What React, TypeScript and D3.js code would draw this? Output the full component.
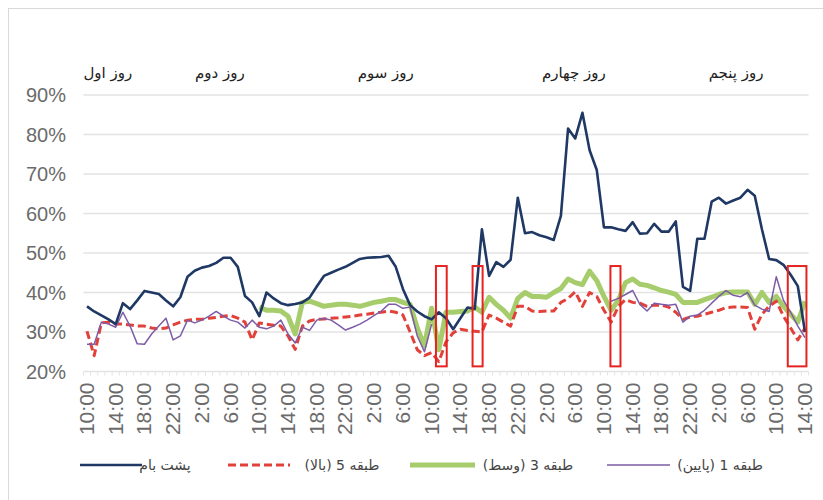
import React from 'react';
import * as d3 from 'd3';

// hourly readings, day 1 10:00 -> day 5 14:00
const tickLabels = [
  '10:00', '14:00', '18:00', '22:00',
  '2:00', '6:00', '10:00', '14:00', '18:00', '22:00',
  '2:00', '6:00', '10:00', '14:00', '18:00', '22:00',
  '2:00', '6:00', '10:00', '14:00', '18:00', '22:00',
  '2:00', '6:00', '10:00', '14:00',
];

const dayLabels = ['روز اول', 'روز دوم', 'روز سوم', 'روز چهارم', 'روز پنجم'];
const dayLabelAt = [2.9, 18.5, 41.6, 67.8, 90.4];

const roof = [
  36.5, 35.2, 34.2, 33.2, 32, 37.3, 35.8, 38, 40.4, 40,
  39.6, 38, 36.5, 38.8, 44, 45.5, 46.3, 46.7, 47.5, 48.8,
  48.8, 46.5, 39.1, 37.5, 34, 40, 38.5, 37.3, 36.8, 37.1,
  37.5, 38.7, 41.5, 44.2, 45, 45.8, 46.5, 47.5, 48.5, 48.8,
  48.9, 49, 49.3, 46.5, 40.9, 36.8, 35.2, 34, 33.2, 35,
  33.5, 30.7, 33.5, 36.2, 35.8, 56, 44.2, 47.7, 46.5, 48.3,
  64, 55, 55.3, 54.5, 54, 53.3, 59.4, 81.5, 79, 85.5,
  76, 71, 56.5, 56.5, 56, 55.6, 57.8, 54.9, 55, 57.4,
  55.4, 55.4, 58, 41.4, 40.4, 53.6, 53.6, 63, 64, 62.5,
  63.3, 64, 66, 64.5, 56, 48.5, 48.2, 47, 44.5, 41.6,
  30,
];

const floor5 = [
  30.2, 24, 32.3, 32.5, 32, 32, 31.8, 31.5, 31.5, 31,
  30.8, 31, 31.8, 32.5, 33, 33.2, 33.2, 33.5, 33.7, 34,
  34.2, 33.5, 32.5, 28, 32.3, 32, 31.7, 31.5, 29, 25.6,
  31.5, 32.8, 33.2, 33.3, 33.5, 33.6, 33.8, 34, 34.3, 34.5,
  34.8, 35, 35.3, 35, 34.3, 30, 25.5, 24, 24.8, 22.5,
  27.5, 29.8, 30.7, 30.4, 30.2, 30, 34.3, 33.5, 32.5, 31.5,
  36.5, 36.5, 35.3, 35.2, 35.3, 35.3, 37.5, 38.5, 40.2, 36.5,
  40, 39, 35.5, 32.5, 36.5, 38.2, 37.5, 37.3, 36.5, 36.8,
  36.8, 36.3, 35, 33.2, 33.8, 34, 34.5, 35, 35.5, 36.2,
  36.3, 36.3, 36.2, 30.7, 34.5, 36.5, 37.8, 34, 31, 28,
  31,
];

const floor3 = [
  null, null, null, null, null, null, null, null, null, null,
  null, null, null, null, null, null, null, null, null, null,
  null, null, null, null, 36.3, 35.5, 35.5, 35.3, 34, 29.5,
  37.5, 37.8, 37.2, 36.5, 36.8, 37, 37, 36.8, 36.5, 37,
  37.5, 37.8, 38.2, 38.2, 37.5, 37, 31, 26.5, 36, 25.5,
  35, 35, 35.2, 35.3, 36.3, 35, 38.8, 37, 35.5, 33.5,
  38.5, 40, 39, 39, 38.8, 40, 41, 43.4, 42.5, 42,
  45.4, 43, 39, 35.5, 38, 42.5, 43.4, 42.1, 41.8, 41.2,
  40.5, 40.1, 39.5, 37.5, 37.5, 37.5, 38.2, 38.8, 39.5, 40,
  40.1, 40.1, 40.1, 37, 40, 37.5, 39, 36.5, 34.5, 32.5,
  37.8,
];

const floor1 = [
  26.9, 26.9, 32.5, 32, 31.2, 35, 31.5, 27, 26.9, 29.5,
  31.5, 33.5, 28, 29, 33, 32.3, 33, 34, 35.2, 34,
  33, 32.5, 31, 33, 31.2, 30.8, 31.5, 33, 29.5, 27.2,
  31.2, 30.4, 33, 33.5, 33, 31.8, 30.5, 31.2, 32, 33,
  34.2, 35.3, 37, 37, 36, 36.3, 29, 25, 32, null,
  null, null, null, null, null, null, null, null, null, null,
  null, null, null, null, null, null, null, null, null, null,
  null, null, null, 37.8, 38.5, 39.5, 40.5, 37, 35.3, 37.3,
  37, 36.8, 37, 32.5, 34, 34.3, 35.5, 37.3, 39, 40.5,
  39.3, 38.9, 40, 36.8, 35.8, 35.2, 44, 38, 35, 31.5,
  28.6,
];

// highlighted periods [from, to] in hour index, and value range
const boxes = [[48.6, 50.1], [53.7, 55.1], [72.9, 74.3], [97.6, 100.2]];
const boxRange = [21.3, 46.7];

const seriesNames = ['پشت بام', 'طبقه 5 (بالا)', 'طبقه 3 (وسط)', 'طبقه 1 (پایین)'];

const W = 823;
const H = 500;
const fa = "'DejaVu Sans', 'Noto Sans', sans-serif";
const latin = "'Liberation Sans', Arial, sans-serif";

const App: React.FC = () => {
  const n = roof.length;
  const x = d3.scaleLinear().domain([-0.5, n - 0.5]).range([83.4, 808.6]);
  const y = d3.scaleLinear().domain([20, 90]).range([371.5, 95]);

  const line = d3
    .line<number | null>()
    .defined((d) => d != null)
    .x((_, i) => x(i))
    .y((d) => y(d as number));

  const styles = [
    { data: floor3, color: '#a6cc6c', width: 5, dash: undefined },
    { data: floor5, color: '#e2413a', width: 3, dash: '8 4' },
    { data: floor1, color: '#7d5ca6', width: 1.5, dash: undefined },
    { data: roof, color: '#1f3864', width: 2.6, dash: undefined },
  ];
  const legendStyle = [styles[3], styles[1], styles[0], styles[2]];
  const legendLine = [[80, 142], [228, 290], [410, 475], [607, 670]];
  const legendText = [165, 342, 528, 720];

  const yTicks = d3.range(20, 91, 10);

  return (
    <svg width={W} height={H} style={{ position: 'absolute', left: 0, top: 0, background: '#fff' }}>
      <rect x={8.5} y={8.5} width={W} height={H} fill="none" stroke="#d9d9d9" />
      {yTicks.map((t) => (
        <g key={t}>
          {t > 20 && (
            <line x1={x.range()[0]} x2={x.range()[1]} y1={y(t)} y2={y(t)} stroke="#e3e3e3" strokeWidth={1.5} />
          )}
          <text x={66} y={y(t)} dy="0.35em" textAnchor="end" fontFamily={latin} fontSize={20} fill="#6b6b6b">
            {t}%
          </text>
        </g>
      ))}
      <line x1={x.range()[0]} x2={x.range()[1]} y1={y(20)} y2={y(20)} stroke="#e3e3e3" strokeWidth={1.5} />
      {d3.range(n + 1).map((i) => (
        <line key={i} x1={x(i - 0.5)} x2={x(i - 0.5)} y1={y(20)} y2={y(20) + 4} stroke="#e3e3e3" />
      ))}
      {tickLabels.map((lab, k) => (
        <text
          key={k}
          transform={`translate(${x(k * 4) + 7},${y(20) + 11}) rotate(-90)`}
          textAnchor="end"
          fontFamily={latin}
          fontSize={21}
          fill="#6b6b6b"
        >
          {lab}
        </text>
      ))}
      {dayLabels.map((d, k) => (
        <text key={d} x={x(dayLabelAt[k])} y={78} textAnchor="middle" direction="rtl" fontFamily={fa} fontSize={15} fill="#222">
          {d}
        </text>
      ))}
      {styles.map((s, k) => (
        <path
          key={k}
          d={line(s.data) || ''}
          fill="none"
          stroke={s.color}
          strokeWidth={s.width}
          strokeDasharray={s.dash}
          strokeLinejoin="round"
        />
      ))}
      {boxes.map((b, k) => (
        <rect
          key={k}
          x={x(b[0])}
          y={y(boxRange[1])}
          width={x(b[1]) - x(b[0])}
          height={y(boxRange[0]) - y(boxRange[1])}
          fill="none"
          stroke="#e52421"
          strokeWidth={2}
        />
      ))}
      {seriesNames.map((name, k) => (
        <g key={name}>
          <line
            x1={legendLine[k][0]}
            x2={legendLine[k][1]}
            y1={465}
            y2={465}
            stroke={legendStyle[k].color}
            strokeWidth={legendStyle[k].width}
            strokeDasharray={legendStyle[k].dash}
          />
          <text x={legendText[k]} y={465} dy="0.35em" textAnchor="middle" direction="rtl" fontFamily={fa} fontSize={14} fill="#444">
            {name}
          </text>
        </g>
      ))}
    </svg>
  );
};

export default App;
